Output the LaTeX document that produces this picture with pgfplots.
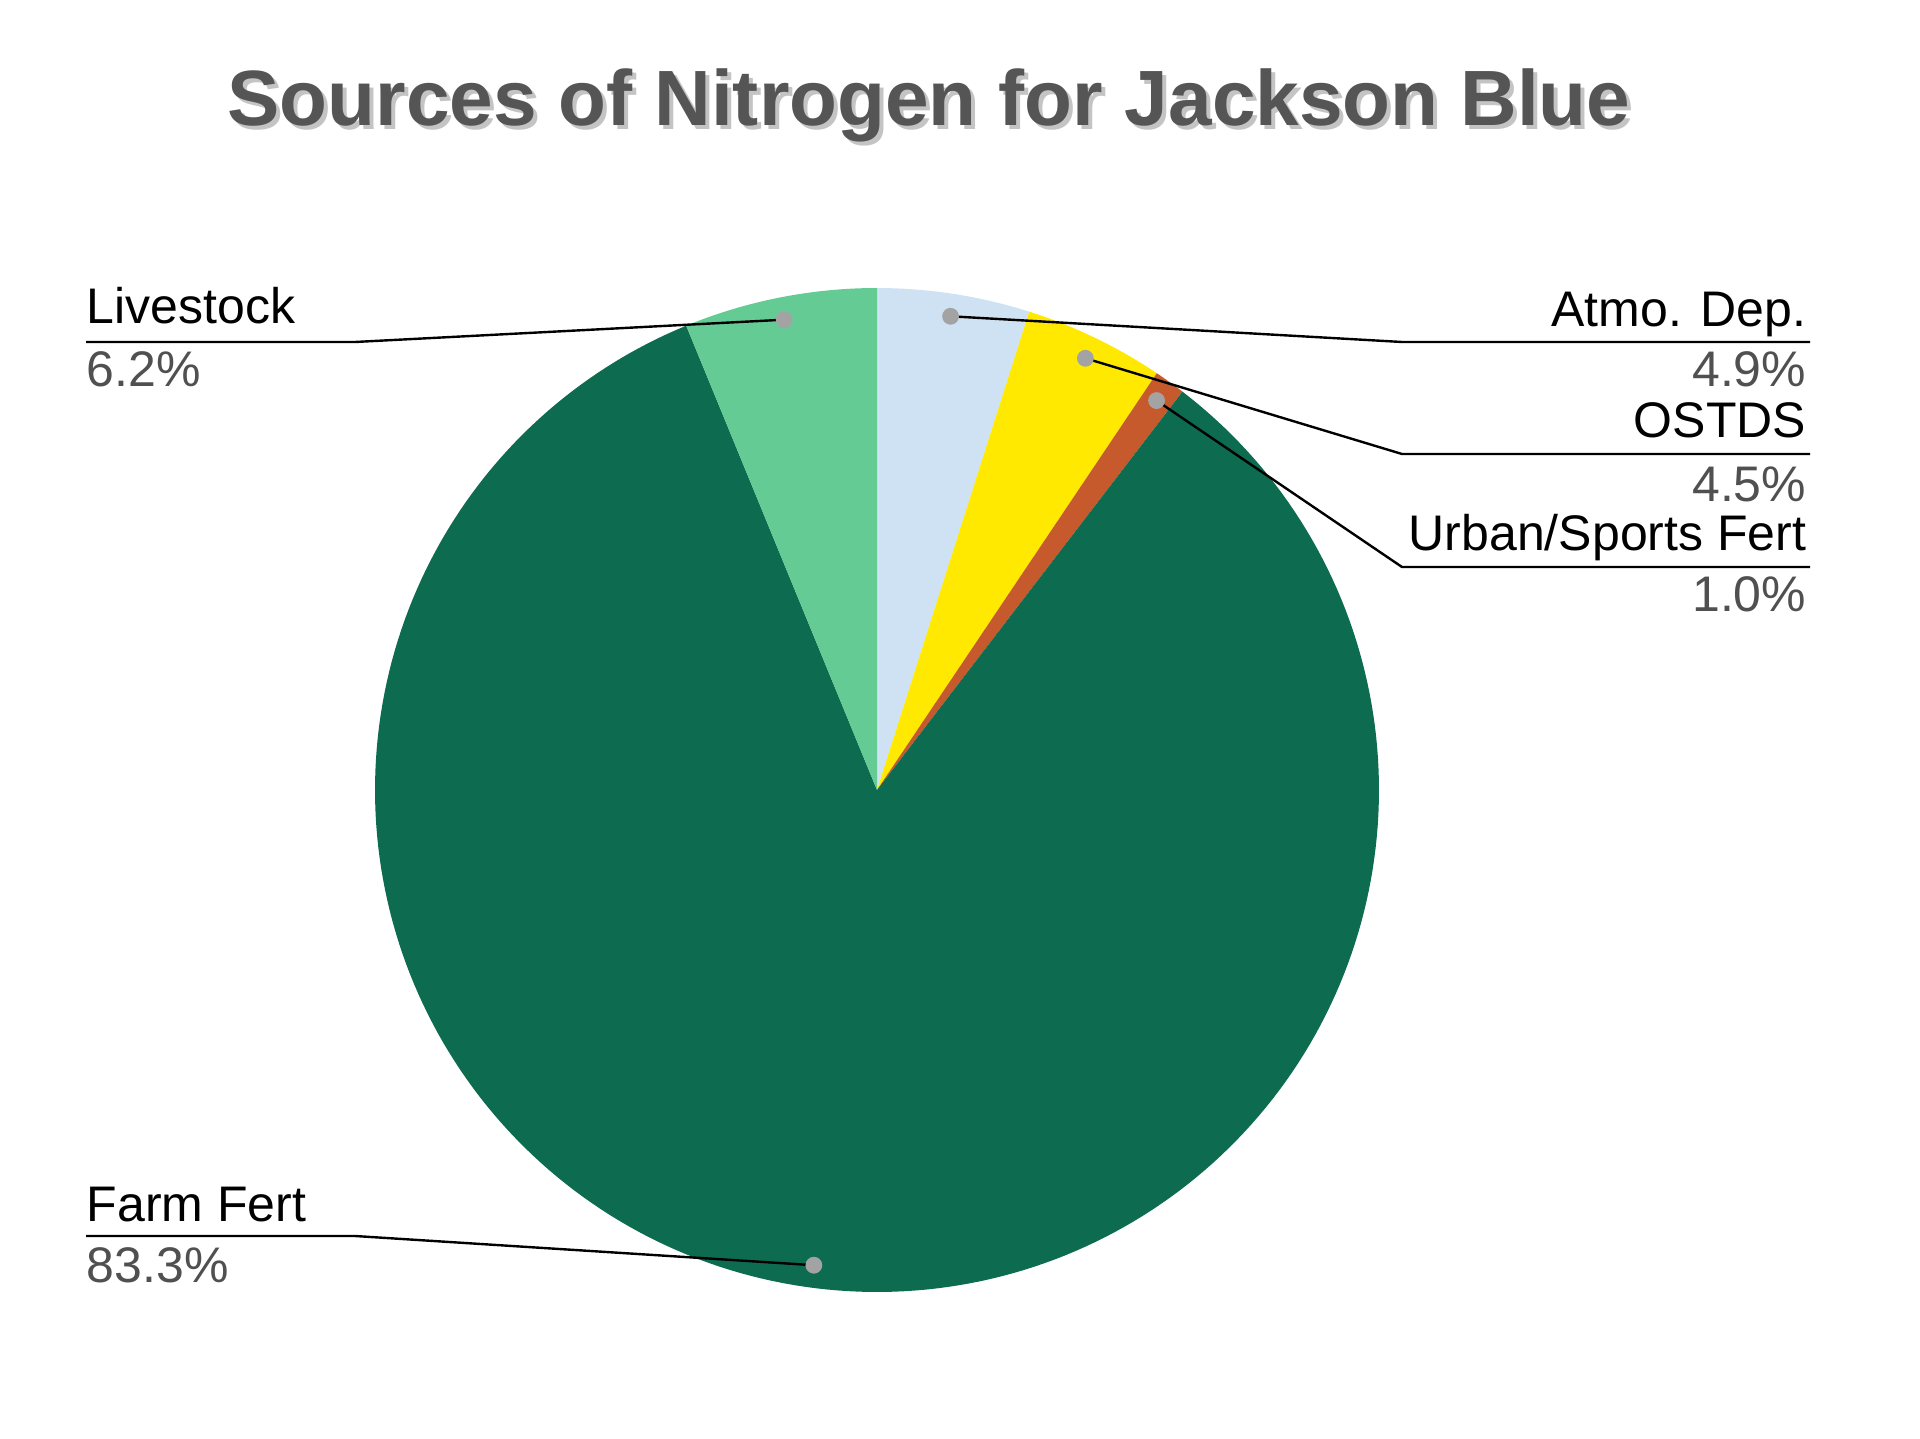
\documentclass[border=0pt]{standalone}
\usepackage{pgfplots}
\pgfplotsset{compat=1.18}
\usepackage{pgfplotstable}
\usepackage{fontspec}
\setmainfont{Liberation Sans}

\definecolor{atmo}{HTML}{CFE2F3}
\definecolor{ostds}{HTML}{FFE900}
\definecolor{urban}{HTML}{C65A2C}
\definecolor{farm}{HTML}{0D6B4F}
\definecolor{live}{HTML}{63CB93}
\definecolor{titlegray}{HTML}{555555}
\definecolor{shadowgray}{HTML}{C4C4C4}
\definecolor{pctgray}{HTML}{505050}
\definecolor{dotgray}{HTML}{A3A3A3}

\tikzset{
  lbl/.style={font=\fontsize{12.5}{15}\selectfont, inner sep=0pt},
  pct/.style={font=\fontsize{12.5}{15}\selectfont, inner sep=0pt, text=pctgray},
  leader/.style={black, line width=0.6pt, mark=none},
}

% shares in percent, clockwise from 12 o'clock
\pgfplotstableread{
name share
Atmo 4.9
OSTDS 4.5
Urban 1.0
Farm 83.3
Livestock 6.2
}\shares

\pgfplotstablegetelem{0}{share}\of\shares \let\vA\pgfplotsretval
\pgfplotstablegetelem{1}{share}\of\shares \let\vB\pgfplotsretval
\pgfplotstablegetelem{2}{share}\of\shares \let\vC\pgfplotsretval
\pgfplotstablegetelem{3}{share}\of\shares \let\vD\pgfplotsretval
\pgfplotstablegetelem{4}{share}\of\shares \let\vE\pgfplotsretval

% pie geometry (reference pixels, y up)
\def\cx{877}
\def\cy{648}
\def\R{502}
\def\rd{0.955}

\pgfmathsetmacro\tot{\vA+\vB+\vC+\vD+\vE}
\pgfmathsetmacro\k{360/\tot}
\pgfmathsetmacro\aA{90}
\pgfmathsetmacro\aB{\aA-\k*\vA}
\pgfmathsetmacro\aC{\aB-\k*\vB}
\pgfmathsetmacro\aD{\aC-\k*\vC}
\pgfmathsetmacro\aE{\aD-\k*\vD}
\pgfmathsetmacro\aF{\aE-\k*\vE}

% leader dots at mid angles
\pgfmathsetmacro\dAx{\cx+\rd*\R*cos((\aA+\aB)/2)}
\pgfmathsetmacro\dAy{\cy+\rd*\R*sin((\aA+\aB)/2)}
\pgfmathsetmacro\dBx{\cx+\rd*\R*cos((\aB+\aC)/2)}
\pgfmathsetmacro\dBy{\cy+\rd*\R*sin((\aB+\aC)/2)}
\pgfmathsetmacro\dCx{\cx+\rd*\R*cos((\aC+\aD)/2)}
\pgfmathsetmacro\dCy{\cy+\rd*\R*sin((\aC+\aD)/2)}
\pgfmathsetmacro\dDx{\cx+\rd*\R*cos((\aD+\aE)/2)}
\pgfmathsetmacro\dDy{\cy+\rd*\R*sin((\aD+\aE)/2)}
\pgfmathsetmacro\dEx{\cx+\rd*\R*cos((\aE+\aF)/2)}
\pgfmathsetmacro\dEy{\cy+\rd*\R*sin((\aE+\aF)/2)}

\begin{document}
\begin{tikzpicture}
\begin{axis}[
    scale only axis,
    width=480pt, height=359.5pt,
    xmin=0, xmax=1920, ymin=0, ymax=1438,
    hide axis, clip=false,
  ]
  \addplot[draw=none, forget plot] coordinates {(0,0) (1920,1438)};

  % slices
  \addplot[fill=atmo, draw=none, domain=\aB:\aA, samples=40, variable=\t]
    ({\cx+\R*cos(\t)}, {\cy+\R*sin(\t)}) -- (axis cs:\cx,\cy) -- cycle;
  \addplot[fill=ostds, draw=none, domain=\aC:\aB, samples=40, variable=\t]
    ({\cx+\R*cos(\t)}, {\cy+\R*sin(\t)}) -- (axis cs:\cx,\cy) -- cycle;
  \addplot[fill=urban, draw=none, domain=\aD:\aC, samples=10, variable=\t]
    ({\cx+\R*cos(\t)}, {\cy+\R*sin(\t)}) -- (axis cs:\cx,\cy) -- cycle;
  \addplot[fill=farm, draw=none, domain=\aE:\aD, samples=240, variable=\t]
    ({\cx+\R*cos(\t)}, {\cy+\R*sin(\t)}) -- (axis cs:\cx,\cy) -- cycle;
  \addplot[fill=live, draw=none, domain=\aF:\aE, samples=40, variable=\t]
    ({\cx+\R*cos(\t)}, {\cy+\R*sin(\t)}) -- (axis cs:\cx,\cy) -- cycle;

  % leader lines
  \addplot[leader] coordinates {(\dAx,\dAy) (1402,1096) (1810,1096)};
  \addplot[leader] coordinates {(\dBx,\dBy) (1402,984) (1810,984)};
  \addplot[leader] coordinates {(\dCx,\dCy) (1402,871) (1810,871)};
  \addplot[leader] coordinates {(86,202) (355,202) (\dDx,\dDy)};
  \addplot[leader] coordinates {(86,1096) (355,1096) (\dEx,\dEy)};

  % leader dots
  \addplot[only marks, mark=*, mark size=1.9pt, draw=dotgray, fill=dotgray]
    coordinates {(\dAx,\dAy) (\dBx,\dBy) (\dCx,\dCy) (\dDx,\dDy) (\dEx,\dEy)};

  % labels
  \node[lbl, anchor=base west] at (axis cs:86,1114) {Livestock};
  \node[pct, anchor=base west] at (axis cs:86,1051) {6.2\%};
  \node[lbl, anchor=base west] at (axis cs:86,217) {Farm Fert};
  \node[pct, anchor=base west] at (axis cs:86,156) {83.3\%};

  \node[lbl, anchor=base east] at (axis cs:1807,1111) {Atmo. Dep.};
  \node[pct, anchor=base east] at (axis cs:1807,1051) {4.9\%};
  \node[lbl, anchor=base east] at (axis cs:1807,1000) {OSTDS};
  \node[pct, anchor=base east] at (axis cs:1807,936) {4.5\%};
  \node[lbl, anchor=base east] at (axis cs:1807,887) {Urban/Sports Fert};
  \node[pct, anchor=base east] at (axis cs:1807,826) {1.0\%};

  % title with shadow
  \node[font=\fontsize{19.6}{23}\selectfont\bfseries, text=shadowgray, anchor=base, inner sep=0pt]
    at (axis cs:933,1308) {Sources of Nitrogen for Jackson Blue};
  \node[font=\fontsize{19.6}{23}\selectfont\bfseries, text=titlegray, anchor=base, inner sep=0pt]
    at (axis cs:929,1312) {Sources of Nitrogen for Jackson Blue};
\end{axis}
\end{tikzpicture}
\end{document}
